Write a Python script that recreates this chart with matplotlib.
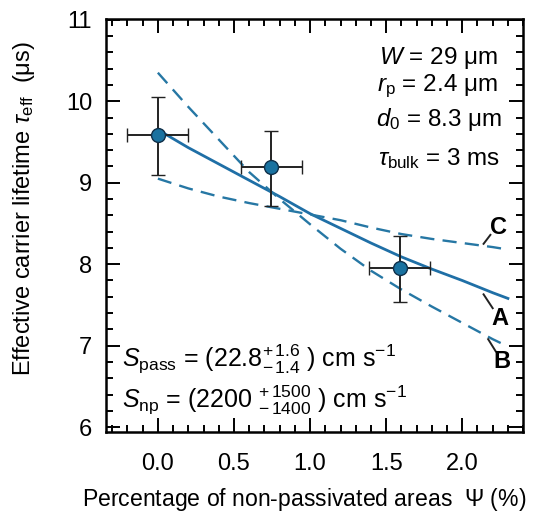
import matplotlib
matplotlib.use("Agg")
import matplotlib.pyplot as plt
from matplotlib.ticker import MultipleLocator

plt.rcParams['font.family'] = ['Liberation Sans', 'DejaVu Sans']
plt.rcParams['mathtext.fontset'] = 'custom'
plt.rcParams['mathtext.rm'] = 'Liberation Sans'
plt.rcParams['mathtext.it'] = 'Liberation Sans:italic'
plt.rcParams['mathtext.bf'] = 'Liberation Sans:bold'

# measured points
psi = [0.0, 0.745, 1.59]
tau = [9.59, 9.19, 7.95]
psi_err = [0.2, 0.2, 0.2]
tau_err_lo = [0.5, 0.47, 0.42]
tau_err_hi = [0.46, 0.45, 0.39]

# model curves
curve_x = [0.0, 0.2, 0.4, 0.6, 0.8, 1.0, 1.2, 1.4, 1.6, 1.8, 2.0, 2.2, 2.3]
curve_A = [9.65, 9.43, 9.23, 9.03, 8.83, 8.62, 8.44, 8.26, 8.09, 7.94, 7.80, 7.65, 7.58]
curve_B = [10.35, 9.93, 9.53, 9.13, 8.80, 8.49, 8.19, 7.92, 7.69, 7.48, 7.28, 7.08, 6.99]
curve_C = [9.05, 8.93, 8.83, 8.75, 8.68, 8.61, 8.54, 8.45, 8.37, 8.31, 8.26, 8.21, 8.18]

params = [r'$W$ = 29 μm', r'$r_{\mathrm{p}}$ = 2.4 μm',
          r'$d_0$ = 8.3 μm', r'$\tau_{\mathrm{bulk}}$ = 3 ms']

line_col = '#1f6fa6'
dash_col = '#2677a4'

fig = plt.figure(figsize=(5.36, 5.25), dpi=100)
ax = fig.add_axes([0.198, 0.177, 0.778, 0.787])

ax.plot(curve_x, curve_A, color=line_col, lw=2.0)
ax.plot(curve_x, curve_B, color=dash_col, lw=1.7, dashes=(6, 3.5))
ax.plot(curve_x, curve_C, color=dash_col, lw=1.7, dashes=(6, 3.5))

ax.errorbar(psi, tau, xerr=psi_err, yerr=[tau_err_lo, tau_err_hi], fmt='o',
            color='#222222', ecolor='#222222', elinewidth=1.4, capsize=5, capthick=1.4,
            markersize=10, markerfacecolor='#1a72a0', markeredgecolor='#10304a',
            markeredgewidth=1.0, zorder=5)

# curve labels with short leaders
ax.plot([2.14, 2.185], [8.25, 8.36], color='#222222', lw=1.4)
ax.text(2.24, 8.45, 'C', fontsize=17, fontweight='bold', ha='center', va='center')
ax.plot([2.14, 2.20], [7.63, 7.46], color='#222222', lw=1.4)
ax.text(2.25, 7.33, 'A', fontsize=17, fontweight='bold', ha='center', va='center')
ax.plot([2.17, 2.22], [7.08, 6.93], color='#222222', lw=1.4)
ax.text(2.26, 6.80, 'B', fontsize=17, fontweight='bold', ha='center', va='center')

for txt, yy, xx in zip(params, [10.53, 10.18, 9.77, 9.3], [2.23, 2.23, 2.26, 2.25]):
    ax.text(xx, yy, txt, fontsize=17.5, ha='right', va='center')

ax.text(-0.235, 6.83, r'$S_{\mathrm{pass}}$ = (22.8$^{+\,1.6}_{-\,1.4}$ ) cm s$^{-1}$',
        fontsize=18, ha='left', va='center')
ax.text(-0.235, 6.33, r'$S_{\mathrm{np}}$ = (2200 $^{+\,1500}_{-\,1400}$ ) cm s$^{-1}$',
        fontsize=18, ha='left', va='center')

ax.set_xlim(-0.34, 2.40)
ax.set_ylim(5.94, 11.01)
ax.xaxis.set_major_locator(MultipleLocator(0.5))
ax.xaxis.set_minor_locator(MultipleLocator(0.1))
ax.yaxis.set_major_locator(MultipleLocator(1))
ax.yaxis.set_minor_locator(MultipleLocator(0.2))
ax.set_xticks([0.0, 0.5, 1.0, 1.5, 2.0])
ax.set_xticklabels(['0.0', '0.5', '1.0', '1.5', '2.0'])
ax.tick_params(which='both', direction='in', top=True, right=True, width=1.4, labelsize=17)
ax.tick_params(which='major', length=10)
ax.tick_params(which='minor', length=5)
ax.tick_params(axis='x', pad=15)
ax.tick_params(axis='y', pad=10)
for s in ax.spines.values():
    s.set_linewidth(1.8)

ax.set_ylabel(r'Effective carrier lifetime $\tau_{\mathrm{eff}}$  (μs)', fontsize=17)
ax.yaxis.set_label_coords(-0.165, 0.542)
fig.text(0.153, 0.048, r'Percentage of non-passivated areas  $\mathit{Ψ}$ (%)', fontsize=16.6,
         ha='left', va='center')

fig.savefig('out.png', dpi=100)
